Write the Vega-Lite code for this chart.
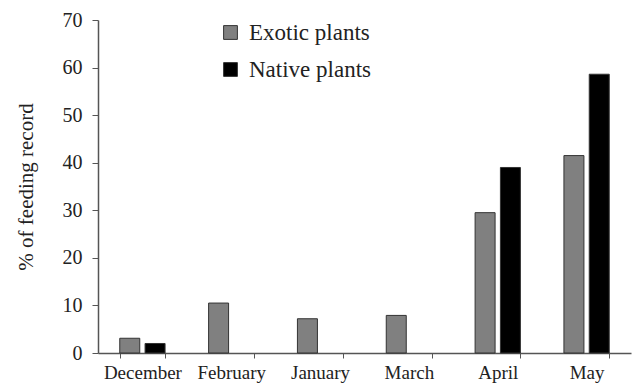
{
  "$schema": "https://vega.github.io/schema/vega-lite/v6.json",
  "width": 533,
  "height": 333,
  "autosize": "none",
  "padding": {"left": 98, "top": 20, "right": 1, "bottom": 35},
  "background": "white",
  "config": {
    "view": {"stroke": null},
    "font": "Liberation Serif",
    "axis": {"labelFont": "Liberation Serif", "titleFont": "Liberation Serif", "domainColor": "#555555", "tickColor": "#555555", "labelColor": "#222222", "titleColor": "#222222", "grid": false},
    "legend": {"labelFont": "Liberation Serif"}
  },
  "data": {
    "values": [
      {"month": "December", "type": "Exotic plants", "value": 3.1},
      {"month": "December", "type": "Native plants", "value": 2.0},
      {"month": "February", "type": "Exotic plants", "value": 10.5},
      {"month": "January", "type": "Exotic plants", "value": 7.2},
      {"month": "March", "type": "Exotic plants", "value": 7.9},
      {"month": "April", "type": "Exotic plants", "value": 29.5},
      {"month": "April", "type": "Native plants", "value": 39.0},
      {"month": "May", "type": "Exotic plants", "value": 41.5},
      {"month": "May", "type": "Native plants", "value": 58.6}
    ]
  },
  "mark": {"type": "bar", "stroke": "#333333", "strokeWidth": 1},
  "encoding": {
    "x": {
      "field": "month", "type": "nominal",
      "sort": ["December", "February", "January", "March", "April", "May"],
      "scale": {"paddingInner": 0.49, "paddingOuter": 0.245},
      "axis": {"title": null, "labelAngle": 0, "labelFontSize": 19, "labelPadding": 5, "tickBand": "extent", "tickSize": 5, "domainWidth": 1.5}
    },
    "xOffset": {
      "field": "type", "type": "nominal",
      "scale": {"domain": ["Exotic plants", "Native plants"], "paddingInner": 0.21, "paddingOuter": 0}
    },
    "y": {
      "field": "value", "type": "quantitative",
      "scale": {"domain": [0, 70]},
      "axis": {"title": "% of feeding record", "values": [0, 10, 20, 30, 40, 50, 60, 70], "labelFontSize": 20, "titleFontSize": 21, "titleFontWeight": "normal", "tickSize": 6, "labelPadding": 10, "titlePadding": 26, "domainWidth": 1.5}
    },
    "fill": {
      "field": "type", "type": "nominal",
      "scale": {"domain": ["Exotic plants", "Native plants"], "range": ["#808080", "#000000"]},
      "legend": {"title": null, "orient": "none", "legendX": 121, "legendY": 1, "symbolType": "square", "symbolSize": 190, "symbolStrokeColor": "#333333", "symbolStrokeWidth": 1, "labelFontSize": 23, "labelColor": "#222222", "rowPadding": 13, "labelOffset": 7}
    }
  }
}
